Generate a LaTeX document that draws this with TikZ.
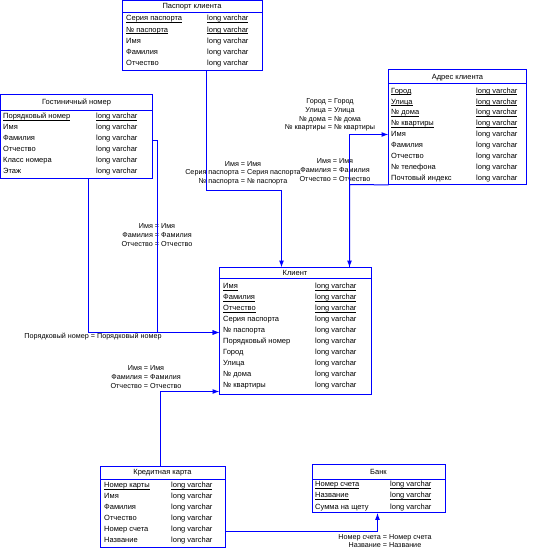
\documentclass[tikz,border=0pt]{standalone}
\usepackage{fontspec}
\setmainfont{Liberation Sans}
\usetikzlibrary{arrows.meta,calc}
\definecolor{erblue}{RGB}{0,0,255}
\newsavebox{\keybox}
\newcommand{\keyu}[1]{\sbox{\keybox}{#1}\rlap{\rule[-1.8pt]{\wd\keybox}{0.7pt}}\usebox{\keybox}}
\newcommand{\erow}[6]{\node[cell] (#1a) at (#2,#4) {#5}; \node[cell] (#1b) at (#3,#4) {#6};}
\begin{document}
\begin{tikzpicture}[x=1pt,y=-1pt,
  tbl/.style={fill=white, inner sep=0, anchor=north west},
  frame/.style={draw=erblue, line width=1pt},
  ttl/.style={font=\fontsize{7.5}{9}\selectfont, inner sep=0, anchor=center},
  cell/.style={font=\fontsize{7.5}{9}\selectfont, inner sep=0, anchor=base west},
  lbl/.style={font=\fontsize{7.2}{8.6}\selectfont, inner sep=0, align=center, anchor=center},
  conn/.style={draw=erblue, line width=1pt},
  arr/.style={conn, -{Latex[length=7pt,width=5pt]}}]
\fill[white] (0,0) rectangle (535,553);
\useasboundingbox (0,0) rectangle (535,553);

% ---------- Паспорт клиента
\node[tbl, minimum width=140pt, minimum height=70pt] (pasp) at (122.5,0.5) {};
\draw[frame] (pasp.north west) rectangle (pasp.south east);
\node[ttl] (paspT) at (192,6.5) {Паспорт клиента};
\draw[frame] ($(pasp.north west)+(0,12)$) -- ($(pasp.north east)+(0,12)$);
\erow{p1}{126}{207}{21}{\keyu{Серия паспорта}}{\keyu{long varchar}}
\erow{p2}{126}{207}{32.1}{\keyu{№ паспорта}}{\keyu{long varchar}}
\erow{p3}{126}{207}{43.2}{Имя}{long varchar}
\erow{p4}{126}{207}{54.3}{Фамилия}{long varchar}
\erow{p5}{126}{207}{65.4}{Отчество}{long varchar}

% ---------- Гостиничный номер
\node[tbl, minimum width=152pt, minimum height=84pt] (gn) at (0.5,94.5) {};
\draw[frame] (gn.north west) rectangle (gn.south east);
\node[ttl] (gnT) at (76.5,102.5) {Гостиничный номер};
\draw[frame] ($(gn.north west)+(0,16)$) -- ($(gn.north east)+(0,16)$);
\erow{g1}{3}{96}{118.5}{\keyu{Порядковый номер}}{\keyu{long varchar}}
\erow{g2}{3}{96}{129.5}{Имя}{long varchar}
\erow{g3}{3}{96}{140.5}{Фамилия}{long varchar}
\erow{g4}{3}{96}{151.5}{Отчество}{long varchar}
\erow{g5}{3}{96}{162.5}{Класс номера}{long varchar}
\erow{g6}{3}{96}{173.5}{Этаж}{long varchar}

% ---------- Адрес клиента
\node[tbl, minimum width=138pt, minimum height=115pt] (adr) at (388.5,69.5) {};
\draw[frame] (adr.north west) rectangle (adr.south east);
\node[ttl] (adrT) at (457.5,77.5) {Адрес клиента};
\draw[frame] ($(adr.north west)+(0,14)$) -- ($(adr.north east)+(0,14)$);
\erow{a1}{391}{476}{93.2}{\keyu{Город}}{\keyu{long varchar}}
\erow{a2}{391}{476}{104.1}{\keyu{Улица}}{\keyu{long varchar}}
\erow{a3}{391}{476}{115}{\keyu{№ дома}}{\keyu{long varchar}}
\erow{a4}{391}{476}{125.9}{\keyu{№ квартиры}}{\keyu{long varchar}}
\erow{a5}{391}{476}{136.8}{Имя}{long varchar}
\erow{a6}{391}{476}{147.7}{Фамилия}{long varchar}
\erow{a7}{391}{476}{158.6}{Отчество}{long varchar}
\erow{a8}{391}{476}{169.5}{№ телефона}{long varchar}
\erow{a9}{391}{476}{180.4}{Почтовый индекс}{long varchar}

% ---------- Клиент
\node[tbl, minimum width=152pt, minimum height=127pt] (kl) at (219.5,267.5) {};
\draw[frame] (kl.north west) rectangle (kl.south east);
\node[ttl] (klT) at (295,272.5) {Клиент};
\draw[frame] ($(kl.north west)+(0,11)$) -- ($(kl.north east)+(0,11)$);
\erow{k1}{223}{315}{288.8}{\keyu{Имя}}{\keyu{long varchar}}
\erow{k2}{223}{315}{299.7}{\keyu{Фамилия}}{\keyu{long varchar}}
\erow{k3}{223}{315}{310.7}{\keyu{Отчество}}{\keyu{long varchar}}
\erow{k4}{223}{315}{321.6}{Серия паспорта}{long varchar}
\erow{k5}{223}{315}{332.5}{№ паспорта}{long varchar}
\erow{k6}{223}{315}{343.5}{Порядковый номер}{long varchar}
\erow{k7}{223}{315}{354.4}{Город}{long varchar}
\erow{k8}{223}{315}{365.3}{Улица}{long varchar}
\erow{k9}{223}{315}{376.2}{№ дома}{long varchar}
\erow{k10}{223}{315}{387.2}{№ квартиры}{long varchar}

% ---------- Кредитная карта
\node[tbl, minimum width=125pt, minimum height=81pt] (kk) at (100.5,466.5) {};
\draw[frame] (kk.north west) rectangle (kk.south east);
\node[ttl] (kkT) at (162.5,473) {Кредитная карта};
\draw[frame] ($(kk.north west)+(0,13)$) -- ($(kk.north east)+(0,13)$);
\erow{c1}{104}{171}{487.5}{\keyu{Номер карты}}{\keyu{long varchar}}
\erow{c2}{104}{171}{498.5}{Имя}{long varchar}
\erow{c3}{104}{171}{509.5}{Фамилия}{long varchar}
\erow{c4}{104}{171}{520.5}{Отчество}{long varchar}
\erow{c5}{104}{171}{531.5}{Номер счета}{long varchar}
\erow{c6}{104}{171}{542.5}{Название}{long varchar}

% ---------- Банк
\node[tbl, minimum width=133pt, minimum height=48pt] (bank) at (312.5,464.5) {};
\draw[frame] (bank.north west) rectangle (bank.south east);
\node[ttl] (bankT) at (378.5,471.5) {Банк};
\draw[frame] ($(bank.north west)+(0,15)$) -- ($(bank.north east)+(0,15)$);
\erow{b1}{315}{390}{486.8}{\keyu{Номер счета}}{\keyu{long varchar}}
\erow{b2}{315}{390}{497.5}{\keyu{Название}}{\keyu{long varchar}}
\erow{b3}{315}{390}{509.2}{Сумма на щету}{long varchar}

% ---------- labels
\node[lbl] (l1) at (243,173) {Имя = Имя\\Серия паспорта = Серия паспорта\\№ паспорта = № паспорта};
\node[lbl] (l2) at (330,115) {Город = Город\\Улица = Улица\\№ дома = № дома\\№ квартиры = № квартиры};
\node[lbl] (l3) at (335,170) {Имя = Имя\\Фамилия = Фамилия\\Отчество = Отчество};
\node[lbl] (l4) at (157,235) {Имя = Имя\\Фамилия = Фамилия\\Отчество = Отчество};
\node[lbl] (l5) at (93,337) {Порядковый номер = Порядковый номер};
\node[lbl] (l6) at (146,377) {Имя = Имя\\Фамилия = Фамилия\\Отчество = Отчество};
\node[lbl] (l7) at (385,541) {Номер счета = Номер счета\\Название = Название};

% ---------- connectors
\coordinate (q1) at (206.5,190.5);
\coordinate (q2) at (281.5,190.5);
\draw[arr] (pasp.south -| q1) -- (q1) -- (q2) -- (kl.north -| q2);

\coordinate (q3) at (349.5,134.5);
\draw[arr] (kl.north -| q3) -- (q3) -- (adr.west |- q3);

\coordinate (q4) at (349.5,184.5);
\draw[arr] (adr.south west) -- (q4) -- (kl.north -| q4);

\coordinate (q5) at (157.5,140.5);
\coordinate (q6) at (157.5,332.5);
\draw[arr] (gn.east |- q5) -- (q5) -- (q6) -- (kl.west |- q6);

\coordinate (q7) at (88.5,332.5);
\draw[arr] (gn.south -| q7) -- (q7) -- (kl.west |- q7);

\coordinate (q8) at (160.5,391.5);
\draw[arr] (kk.north -| q8) -- (q8) -- (kl.west |- q8);

\coordinate (q9) at (377.5,531.5);
\draw[arr] (kk.east |- q9) -- (q9) -- (bank.south -| q9);
\end{tikzpicture}
\end{document}
